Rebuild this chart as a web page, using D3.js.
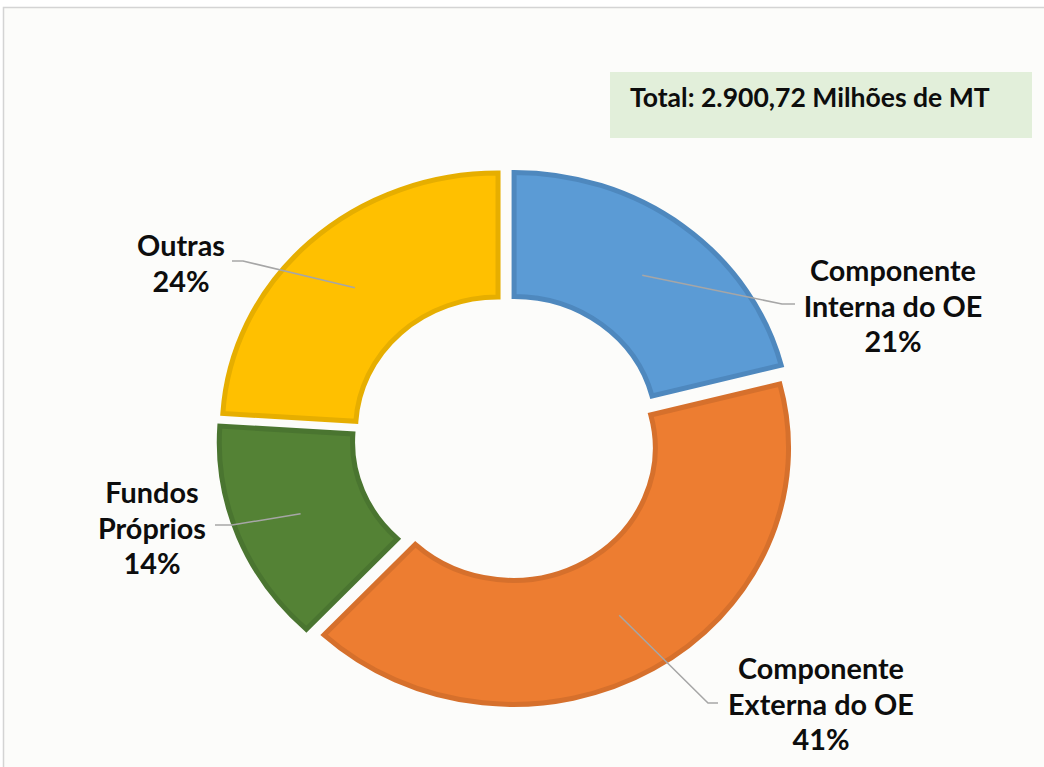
<!DOCTYPE html>
<html>
<head>
<meta charset="utf-8">
<script src="https://cdn.jsdelivr.net/npm/d3@7"></script>
<style>
  html, body { margin: 0; padding: 0; background: #ffffff; }
  svg { display: block; }
  text { font-family: Lato, "Open Sans", sans-serif; font-weight: bold; fill: #0d0d0d; }
</style>
</head>
<body>
<svg id="chart" width="1044" height="767"></svg>
<script>
// ---- data ----
const categories = ["Componente Interna do OE", "Componente Externa do OE", "Fundos Próprios", "Outras"];
const values = [21, 41, 14, 24];
const labelLines = [
  ["Componente", "Interna do OE", "21%"],
  ["Componente", "Externa do OE", "41%"],
  ["Fundos", "Próprios", "14%"],
  ["Outras", "24%"]
];
const fillColors = ["#5B9BD5", "#ED7D31", "#548235", "#FFC000"];
const strokeColors = ["#4E88BE", "#D6702C", "#4A7530", "#E6AE00"];
const totalText = "Total: 2.900,72 Milhões de MT";

// ---- layout ----
const W = 1044, H = 767;
const cx = 506.5, cy = 438, sx = 1.075;
const outerR = 256.5, innerR = 132.5, explode = 11.5, strokeW = 5;
// label layout: bend point, end point, text center x, first baseline
const labelLayout = [
  { bend: [782, 304], end: [795, 304], tx: 893, ty: 281 },
  { bend: [708, 703], end: [718, 703], tx: 821, ty: 679 },
  { bend: [232, 525], end: [215, 525], tx: 152, ty: 503 },
  { bend: [243, 261], end: [232, 261], tx: 181, ty: 256 }
];
const lineGap = 35.6;

const svg = d3.select("#chart");

// chart area frame
svg.append("rect").attr("x", 3.5).attr("y", 7.5).attr("width", W + 10).attr("height", H + 10)
  .attr("fill", "#fcfcfa").attr("stroke", "#d4d4d4").attr("stroke-width", 1.5);

// total box
svg.append("rect").attr("x", 610).attr("y", 72).attr("width", 422).attr("height", 66)
  .attr("fill", "#e2efda");

// helper to fit font size by width
function fitSize(str, targetW) {
  const t = svg.append("text").attr("font-size", 100).text(str);
  const w = t.node().getComputedTextLength();
  t.remove();
  return 100 * targetW / w;
}
const labelSize = fitSize("Componente", 166);
const totalSize = fitSize(totalText, 360);

svg.append("text").attr("x", 630).attr("y", 107).attr("font-size", totalSize).text(totalText);

// pie
const pie = d3.pie().sort(null).value(d => d)(values);
const arc = d3.arc().innerRadius(innerR).outerRadius(outerR);

const g = svg.append("g").attr("transform", `translate(${cx},${cy}) scale(${sx},1)`);
g.selectAll("path").data(pie).join("path")
  .attr("d", arc)
  .attr("transform", d => {
    const m = (d.startAngle + d.endAngle) / 2;
    return `translate(${explode * Math.sin(m)},${-explode * Math.cos(m)})`;
  })
  .attr("fill", (d, i) => fillColors[i])
  .attr("stroke", (d, i) => strokeColors[i])
  .attr("stroke-width", strokeW)
  .attr("vector-effect", "non-scaling-stroke")
  .attr("stroke-linejoin", "miter");

// leader lines from slice centroid
const midR = (innerR + outerR) / 2 + explode;
pie.forEach((d, i) => {
  const m = (d.startAngle + d.endAngle) / 2;
  const p0 = [cx + sx * midR * Math.sin(m), cy - midR * Math.cos(m)];
  const L = labelLayout[i];
  svg.append("polyline")
    .attr("points", [p0, L.bend, L.end].map(p => p.join(",")).join(" "))
    .attr("fill", "none").attr("stroke", "#a6a6a6").attr("stroke-width", 1.5);
  const t = svg.append("text").attr("text-anchor", "middle").attr("font-size", labelSize);
  labelLines[i].forEach((ln, j) => {
    t.append("tspan").attr("x", L.tx).attr("y", L.ty + j * lineGap).text(ln);
  });
});
</script>
</body>
</html>
